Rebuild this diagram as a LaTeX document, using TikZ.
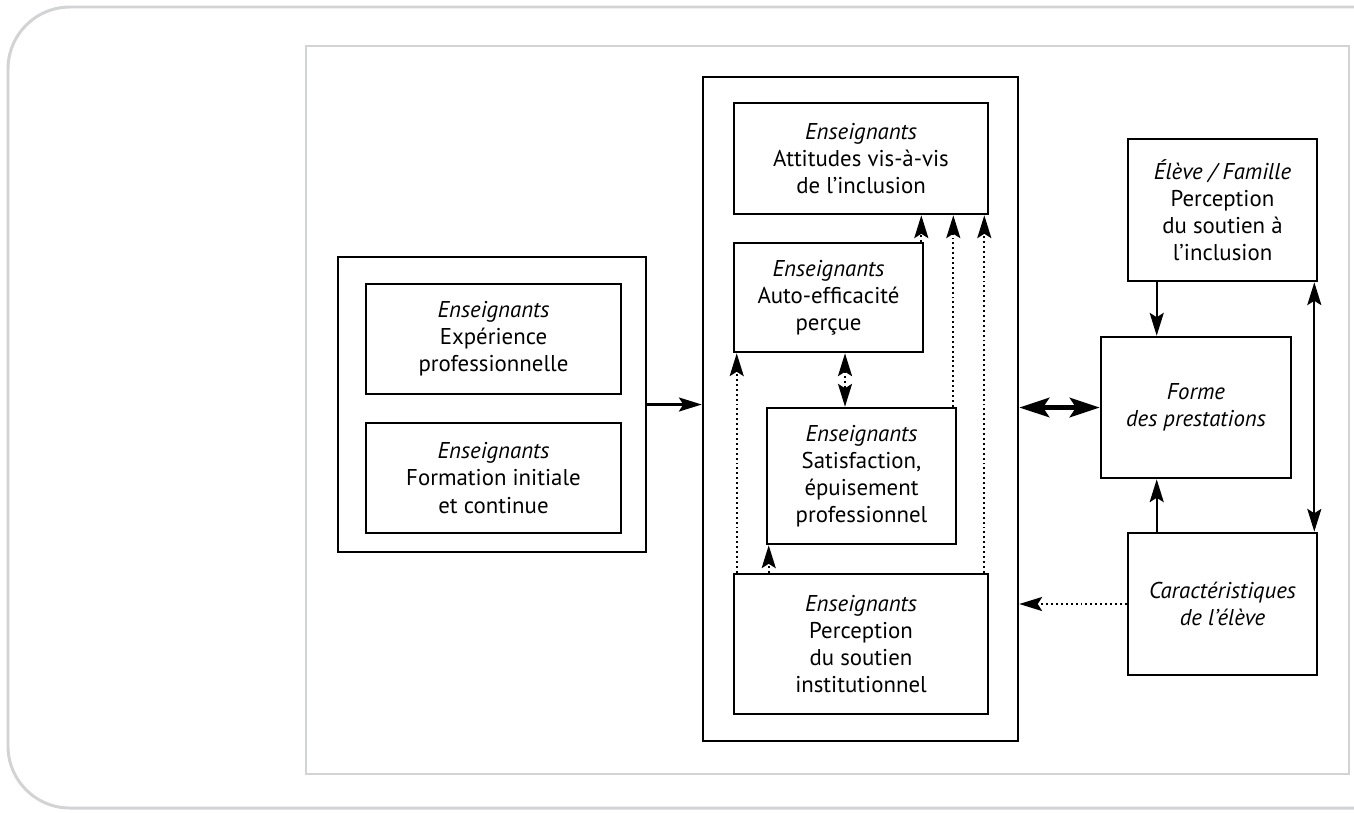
\documentclass[tikz,border=0pt]{standalone}
\usepackage{fontspec}
\setmainfont{PT Sans}
\usetikzlibrary{arrows.meta,calc}
\definecolor{gris}{RGB}{210,211,213}
\tikzset{
	boite/.style={draw, line width=1.5pt, align=center, inner sep=0pt, font=\fontsize{13}{15.4}\selectfont},
	fleche/.style={line width=1.2pt, -{Stealth[length=13pt,width=8pt,inset=2.5pt]}},
	flechedouble/.style={line width=1.2pt, {Stealth[length=13pt,width=8pt,inset=2.5pt]}-{Stealth[length=13pt,width=8pt,inset=2.5pt]}},
	pointille/.style={line width=1.1pt, dash pattern=on 1.1pt off 1.7pt, -{Stealth[length=13pt,width=8pt,inset=2.5pt]}},
	pointilledouble/.style={line width=1.1pt, dash pattern=on 1.1pt off 1.7pt, {Stealth[length=13pt,width=8pt,inset=2.5pt]}-{Stealth[length=13pt,width=8pt,inset=2.5pt]}},
	grosse/.style={line width=2.8pt, {Stealth[length=17pt,width=11pt,inset=3.5pt]}-{Stealth[length=17pt,width=11pt,inset=3.5pt]}}
}
\begin{document}
\begin{tikzpicture}[x=0.02cm,y=-0.02cm]
		\useasboundingbox (0,0) rectangle (1354,812);
		\draw[gris, line width=1.7pt, rounded corners=1.24cm] (1370,7) -- (8,7) -- (8,808) -- (1370,808);
		\draw[gris, line width=1.1pt] (306,46) rectangle (1349,774);
		
		\node[boite, minimum width=6.16cm, minimum height=5.9cm] at (492,404.5) (grp) {};
		\node[boite, minimum width=5.1cm, minimum height=2.2cm] at (493.5,339) (exp) {\textit{Enseignants}\\Expérience\\professionnelle};
		\node[boite, minimum width=5.1cm, minimum height=2.2cm] at (493.5,478) (form) {\textit{Enseignants}\\Formation initiale\\et continue};
		
		\node[boite, minimum width=6.3cm, minimum height=13.28cm] at (860.5,409) (big) {};
		\node[boite, minimum width=5.08cm, minimum height=2.22cm] at (861,158.5) (att) {\textit{Enseignants}\\Attitudes vis-à-vis\\de l’inclusion};
		\node[boite, minimum width=3.78cm, minimum height=2.18cm] at (828.5,297.5) (auto) {\textit{Enseignants}\\Auto-efficacité\\perçue};
		\node[boite, minimum width=3.78cm, minimum height=2.72cm] at (861.5,476) (sat) {\textit{Enseignants}\\Satisfaction,\\épuisement\\professionnel};
		\node[boite, minimum width=5.08cm, minimum height=2.8cm] at (861,644) (perc) {\textit{Enseignants}\\Perception\\du soutien\\institutionnel};
		
		\node[boite, minimum width=3.78cm, minimum height=2.84cm] at (1222.5,210) (fam) {\textit{Élève / Famille}\\Perception\\du soutien à\\l’inclusion};
		\node[boite, minimum width=3.8cm, minimum height=2.82cm] at (1196,407.5) (forme) {\textit{Forme}\\\textit{des prestations}};
		\node[boite, minimum width=3.78cm, minimum height=2.84cm] at (1222.5,604) (carac) {\textit{Caractéristiques}\\\textit{de l’élève}};
		
		\coordinate (p1) at ([xshift=0.08cm]perc.north west);
		\coordinate (s1) at ([xshift=0.06cm]sat.south west);
		\coordinate (m1) at ($(auto.south)!.5!(sat.north)$);
		\coordinate (a1) at ([xshift=-0.06cm]auto.north east);
		\coordinate (s2) at ([xshift=-0.08cm]sat.north east);
		\coordinate (p2) at ([xshift=-0.1cm]perc.north east);
		\coordinate (f1) at ([xshift=0.6cm]fam.south west);
		\coordinate (c1) at ([xshift=0.6cm]carac.north west);
		\coordinate (f2) at ([xshift=-0.08cm]fam.south east);
		
		\draw[fleche] (grp.east) -- (grp.east -| big.west);
		
		\draw[pointille] (p1) -- (p1 |- auto.south);
		\draw[pointille] (s1 |- perc.north) -- (s1);
		\draw[pointilledouble] (m1 |- auto.south) -- (m1 |- sat.north);
		\draw[pointille] (a1) -- (a1 |- att.south);
		\draw[pointille] (s2) -- (s2 |- att.south);
		\draw[pointille] (p2) -- (p2 |- att.south);
		
		\draw[fleche] (f1) -- (f1 |- forme.north);
		\draw[fleche] (c1) -- (c1 |- forme.south);
		\draw[flechedouble] (f2) -- (f2 |- carac.north);
		\draw[grosse] (forme.west -| big.east) -- (forme.west);
		\draw[pointille] (carac.west) -- (carac.west -| big.east);
\end{tikzpicture}
\end{document}
